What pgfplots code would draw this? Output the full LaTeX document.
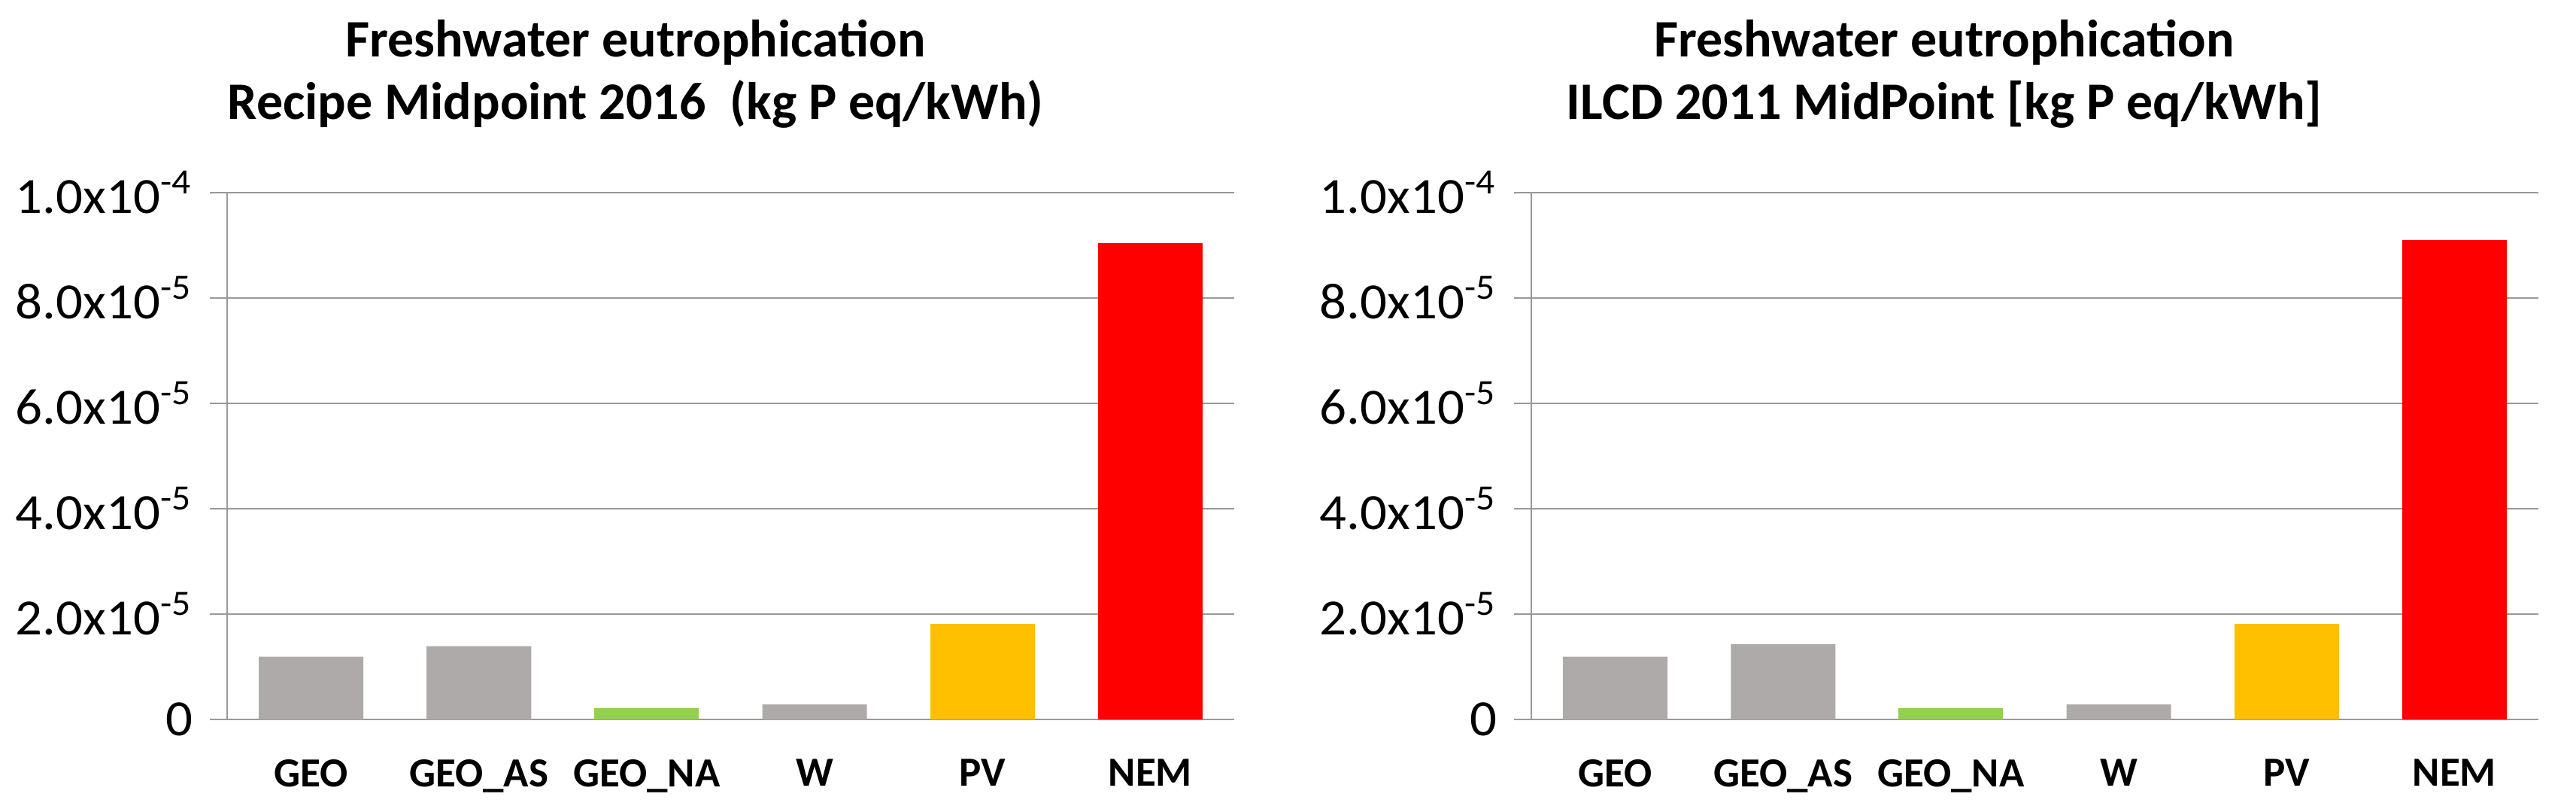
\documentclass[border=0pt]{standalone}
\usepackage{graphicx}
\usepackage{pgfplots}
\pgfplotsset{compat=1.18}
\usepackage{fontspec}
\setmainfont{Carlito}
\definecolor{bargray}{HTML}{AEAAAA}
\definecolor{bargreen}{HTML}{92D050}
\definecolor{barorange}{HTML}{FFC000}
\definecolor{barred}{HTML}{FF0000}
\definecolor{gridgray}{HTML}{999999}
\newcommand{\ylab}[2]{\scalebox{1.05}[1]{#1x10\textsuperscript{#2}}}

\pgfplotsset{
  eutro/.style={
    scale only axis,
    width=267.8pt, height=140pt,
    anchor=south west,
    xmin=-0.5, xmax=5.5,
    ymin=0, ymax=1e-4,
    axis lines*=left,
    axis line style={gridgray, line width=0.55pt},
    ymajorgrids,
    grid style={gridgray, line width=0.55pt},
    ytick={0,2e-5,4e-5,6e-5,8e-5,1e-4},
    yticklabels={\scalebox{1.05}[1]{0}, \ylab{2.0}{-5}, \ylab{4.0}{-5}, \ylab{6.0}{-5}, \ylab{8.0}{-5}, \ylab{1.0}{-4}},
    scaled y ticks=false,
    tick align=outside,
    major tick length=4.6pt,
    minor tick length=3.8pt,
    ytick style={gridgray, line width=0.55pt},
    xtick={0,1,2,3,4,5},
    xticklabels={GEO, GEO\_AS, GEO\_NA, W, PV, NEM},
    xtick style={draw=none},
    minor xtick={-0.5,0.5,1.5,2.5,3.5,4.5,5.5},
    minor tick style={gridgray, line width=0.55pt},
    yticklabel style={font=\fontsize{13.5}{16}\selectfont, anchor=east, inner sep=0pt, xshift=-4.4pt},
    xticklabel style={font=\fontsize{11}{13}\selectfont\bfseries, anchor=north, inner sep=0pt, yshift=-5.8pt},
    ybar, bar width=0.623,
    every axis plot/.append style={draw=none, bar shift=0pt},
    clip=false,
  }
}

\begin{document}
\begin{tikzpicture}
\useasboundingbox (0,0) rectangle (685pt,214.8pt);

\begin{axis}[eutro, at={(60.4pt,23.6pt)}]
\addplot[fill=bargray] coordinates {(0,1.19e-5) (1,1.39e-5) (3,2.84e-6)};
\addplot[fill=bargreen] coordinates {(2,2.17e-6)};
\addplot[fill=barorange] coordinates {(4,1.81e-5)};
\addplot[fill=barred] coordinates {(5,9.05e-5)};
\end{axis}
\node[anchor=base, inner sep=0pt, font=\fontsize{14}{17}\selectfont\bfseries] at (169pt,199.6pt) {Freshwater eutrophication};
\node[anchor=base, inner sep=0pt, font=\fontsize{14}{17}\selectfont\bfseries] at (169pt,183pt) {Recipe Midpoint 2016\ \ (kg P eq/kWh)};

\begin{axis}[eutro, at={(407.2pt,23.6pt)}]
\addplot[fill=bargray] coordinates {(0,1.19e-5) (1,1.43e-5) (3,2.84e-6)};
\addplot[fill=bargreen] coordinates {(2,2.17e-6)};
\addplot[fill=barorange] coordinates {(4,1.81e-5)};
\addplot[fill=barred] coordinates {(5,9.10e-5)};
\end{axis}
\node[anchor=base, inner sep=0pt, font=\fontsize{14}{17}\selectfont\bfseries] at (517pt,199.6pt) {Freshwater eutrophication};
\node[anchor=base, inner sep=0pt, font=\fontsize{14}{17}\selectfont\bfseries] at (517pt,183pt) {ILCD 2011 MidPoint [kg P eq/kWh]};
\end{tikzpicture}
\end{document}
